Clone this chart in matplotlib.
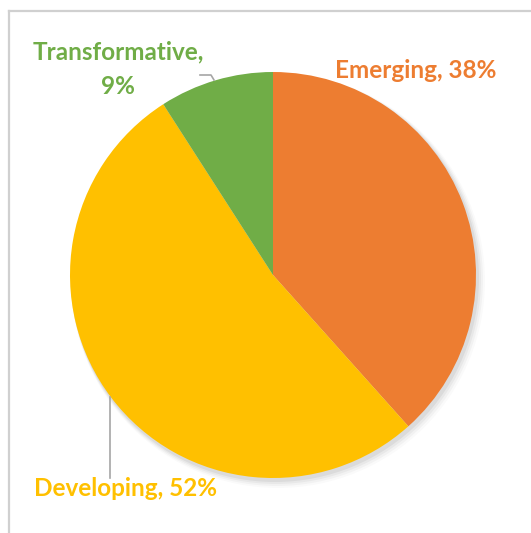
import matplotlib.pyplot as plt
from matplotlib.patches import Circle

# Data
labels = ['Emerging', 'Developing', 'Transformative']
shares = [38, 52, 9]
colors = ['#ED7D31', '#FFC000', '#70AD47']

W, H = 531, 533
fig = plt.figure(figsize=(W / 100, H / 100), dpi=100)
ax = fig.add_axes([0, 0, 1, 1])

cx, cy, r = 273, H - 275, 203

# soft shadow
for i, a in enumerate([0.05, 0.04, 0.03, 0.02]):
    ax.add_patch(Circle((cx + 2 + i, cy - 3 - i), r + 1 + i, color='black', alpha=a, lw=0, zorder=1))

wedges, _ = ax.pie(shares, colors=colors, startangle=90, counterclock=False,
                   center=(cx, cy), radius=r, frame=True,
                   wedgeprops=dict(linewidth=0, zorder=2))
ax.set_xlim(0, W)
ax.set_ylim(0, H)
ax.axis('off')

# chart frame
ax.plot([9, W], [H - 11, H - 11], color='#d0d0d0', lw=1.6, zorder=0)
ax.plot([9, 9], [0, H - 11], color='#d0d0d0', lw=1.6, zorder=0)

fnt = dict(family=['Lato', 'DejaVu Sans'], fontweight='bold', fontsize=17.5)

ax.text(416, H - 70, f'{labels[0]}, {shares[0]}%', color=colors[0], ha='center', va='center', **fnt)
ax.text(125, H - 488, f'{labels[1]}, {shares[1]}%', color=colors[1], ha='center', va='center', **fnt)
ax.text(118, H - 52, f'{labels[2]},', color=colors[2], ha='center', va='center', **fnt)
ax.text(118, H - 86, f'{shares[2]}%', color=colors[2], ha='center', va='center', **fnt)

# leader lines
ax.plot([200, 211, 214], [H - 75, H - 75, H - 80], color='#a6a6a6', lw=1.2, zorder=3)
ax.plot([110, 110], [H - 397, H - 478], color='#a6a6a6', lw=1.2, zorder=3)

fig.savefig('out.png', dpi=100)
